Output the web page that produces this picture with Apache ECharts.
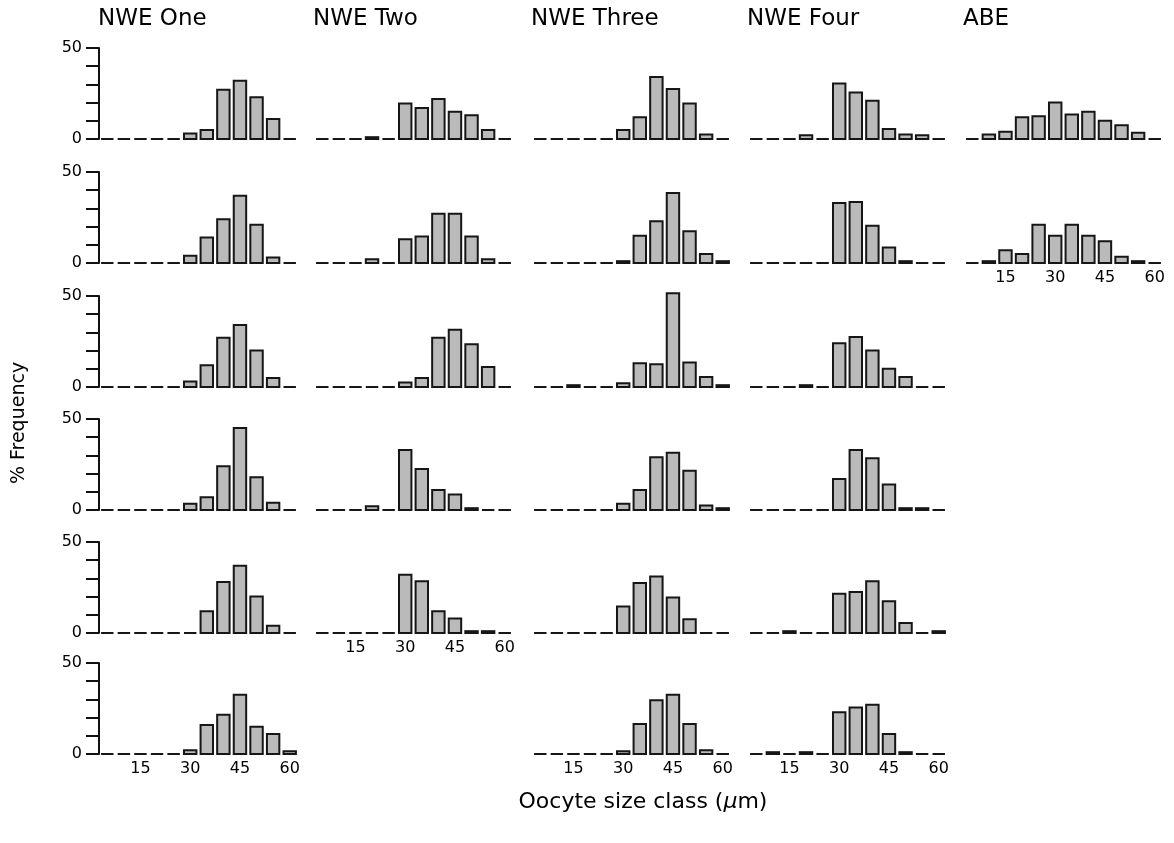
<!DOCTYPE html>
<html>
<head>
<meta charset="utf-8">
<script src="https://cdn.jsdelivr.net/npm/echarts@6/dist/echarts.min.js"></script>
<style>
  html, body { margin: 0; padding: 0; background: #fff; }
  #chart { width: 1174px; height: 843px; }
</style>
</head>
<body>
<div id="chart"></div>
<script>
// size classes (um), one bar each
const sizeClasses = ['5', '10', '15', '20', '25', '30', '35', '40', '45', '50', '55', '60'];
const sites = ['NWE One', 'NWE Two', 'NWE Three', 'NWE Four', 'ABE'];

// % frequency per sample (rows top to bottom)
const nweOne = [
  [0, 0, 0, 0, 0, 3, 5, 27, 32, 23, 11, 0],
  [0, 0, 0, 0, 0, 4, 14, 24, 37, 21, 3, 0],
  [0, 0, 0, 0, 0, 3, 12, 27, 34, 20, 5, 0],
  [0, 0, 0, 0, 0, 3.5, 7, 24, 45, 18, 4, 0],
  [0, 0, 0, 0, 0, 0, 12, 28, 37, 20, 4, 0],
  [0, 0, 0, 0, 0, 2, 16, 21.5, 32.5, 15, 11, 1.5]
];
const nweTwo = [
  [0, 0, 0, 1, 0, 19.5, 17, 22, 15, 13, 5, 0],
  [0, 0, 0, 2, 0, 13, 14.5, 27, 27, 14.5, 2, 0],
  [0, 0, 0, 0, 0, 2.5, 5, 27, 31.5, 23.5, 11, 0],
  [0, 0, 0, 2, 0, 33, 22.5, 11, 8.5, 1, 0, 0],
  [0, 0, 0, 0, 0, 32, 28.5, 12, 8, 1, 1, 0]
];
const nweThree = [
  [0, 0, 0, 0, 0, 5, 12, 34, 27.5, 19.5, 2.5, 0],
  [0, 0, 0, 0, 0, 1, 15, 23, 38.5, 17.5, 5, 1],
  [0, 0, 1, 0, 0, 2, 13, 12.5, 51.5, 13.5, 5.5, 1],
  [0, 0, 0, 0, 0, 3.5, 11, 29, 31.5, 21.5, 2.5, 1],
  [0, 0, 0, 0, 0, 14.5, 27.5, 31, 19.5, 7.5, 0, 0],
  [0, 0, 0, 0, 0, 1.5, 16.5, 29.5, 32.5, 16.5, 2, 0]
];
const nweFour = [
  [0, 0, 0, 2, 0, 30.5, 25.5, 21, 5.5, 2.5, 2, 0],
  [0, 0, 0, 0, 0, 33, 33.5, 20.5, 8.5, 1, 0, 0],
  [0, 0, 0, 1, 0, 24, 27.5, 20, 10, 5.5, 0, 0],
  [0, 0, 0, 0, 0, 17, 33, 28.5, 14, 1, 1, 0],
  [0, 0, 1, 0, 0, 21.5, 22.5, 28.5, 17.5, 5.5, 0, 1],
  [0, 1, 0, 1, 0, 23, 25.5, 27, 11, 1, 0, 0]
];
const abe = [
  [0, 2.5, 4, 12, 12.5, 20, 13.5, 15, 10, 7.5, 3.5, 0],
  [0, 1, 7, 5, 21, 15, 21, 15, 12, 3.5, 1, 0]
];
const columns = [nweOne, nweTwo, nweThree, nweFour, abe];

// layout
const colLeft = [99, 314, 532, 748, 964];
const rowBase = [139, 263, 387, 510, 633, 754];
const plotW = 199;
const plotH = 91;
const font = 'DejaVu Sans';

// bars drawn as custom rects so zero / tiny classes still get their outline
function renderBar(params, api) {
  const idx = api.value(0);
  const top = api.coord([idx, api.value(1)]);
  const base = api.coord([idx, 0]);
  const w = api.size([1, 0])[0] * 0.87 - 2;
  return {
    type: 'rect',
    shape: { x: top[0] - w / 2, y: top[1], width: w, height: base[1] - top[1] },
    style: { fill: '#bababa', stroke: '#161616', lineWidth: 2 }
  };
}

const grid = [], xAxis = [], yAxis = [], series = [], graphic = [];

columns.forEach((rows, c) => {
  rows.forEach((values, r) => {
    const idx = grid.length;
    const isBottom = r === rows.length - 1;
    const isFirst = c === 0;
    grid.push({
      left: colLeft[c],
      top: rowBase[r] - plotH,
      width: plotW,
      height: plotH
    });
    xAxis.push({
      gridIndex: idx,
      type: 'category',
      data: sizeClasses,
      axisLine: { show: false },
      axisTick: { show: false },
      axisLabel: {
        show: isBottom,
        interval: (i) => i % 3 === 2,
        margin: 7,
        color: '#000',
        fontFamily: font,
        fontSize: 16
      }
    });
    yAxis.push({
      gridIndex: idx,
      type: 'value',
      min: 0,
      max: 50,
      interval: 10,
      splitLine: { show: false },
      axisLine: { show: isFirst, lineStyle: { color: '#111', width: 2 } },
      axisTick: { show: isFirst, length: 13, lineStyle: { color: '#111', width: 2 } },
      axisLabel: {
        show: isFirst,
        margin: 17,
        color: '#000',
        fontFamily: font,
        fontSize: 16,
        formatter: (v) => (v === 0 || v === 50 ? String(v) : '')
      }
    });
    series.push({
      type: 'custom',
      xAxisIndex: idx,
      yAxisIndex: idx,
      data: values.map((v, i) => [i, v]),
      encode: { x: 0, y: 1 },
      renderItem: renderBar
    });
  });

  graphic.push({
    type: 'text',
    left: colLeft[c] - 1,
    top: 8,
    style: { text: sites[c], fill: '#000', font: '23px "' + font + '"' }
  });
});

graphic.push({
  type: 'text',
  x: 19,
  y: 423,
  rotation: Math.PI / 2,
  style: {
    text: '% Frequency',
    fill: '#000',
    font: '19px "' + font + '"',
    align: 'center',
    verticalAlign: 'middle'
  }
});

graphic.push({
  type: 'text',
  x: 643,
  y: 802,
  style: {
    text: 'Oocyte size class ({i|μ}m)',
    fill: '#000',
    font: '22px "' + font + '"',
    align: 'center',
    verticalAlign: 'middle',
    rich: {
      i: { fontStyle: 'italic', fontFamily: font, fontSize: 22, fill: '#000' }
    }
  }
});

const chart = echarts.init(document.getElementById('chart'));
chart.setOption({
  animation: false,
  backgroundColor: '#fff',
  grid,
  xAxis,
  yAxis,
  series,
  graphic
});
window.addEventListener('resize', () => chart.resize());
</script>
</body>
</html>
